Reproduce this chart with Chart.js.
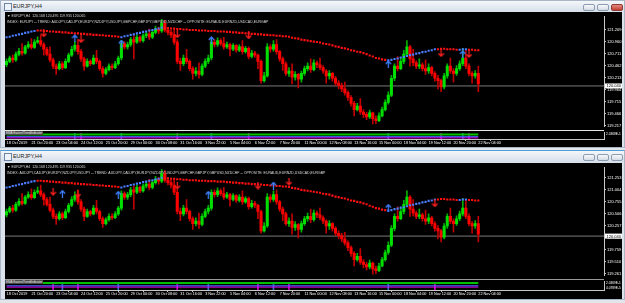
<!DOCTYPE html>
<html>
<head>
<meta charset="utf-8">
<script src="https://cdn.jsdelivr.net/npm/chart.js@4.4.0/dist/chart.umd.min.js"></script>
<style>
html, body { margin: 0; padding: 0; }
body { width: 625px; height: 303px; background: #e2e6eb; position: relative; overflow: hidden; font-family: "Liberation Sans", Arial, sans-serif; }
.win { position: absolute; left: 0; width: 625px; background: #dbe2eb; box-sizing: border-box; border: 1px solid #a9b6c6; }
.titlebar { position: absolute; left: 1px; width: 623px; height: 11px; background: linear-gradient(#f4f7fa, #d6dfea); }
.ttext { position: absolute; left: 12px; top: 2px; font-size: 5.4px; color: #222; white-space: nowrap; }
.icon { position: absolute; left: 3px; top: 2px; width: 6px; height: 6px; border: 1px solid #6d86a8; background: #eef3f9; }
.btn { position: absolute; top: 3px; width: 12px; height: 7px; box-sizing: border-box; border: 1px solid #8c9cb1; border-radius: 2px; background: linear-gradient(#f7f9fb, #d3dbe5); }
.btn.close { background: linear-gradient(#e48a80, #c23f33); border-color: #8e3a32; }
.pane { position: absolute; left: 5px; width: 617px; background: #000; }
canvas { position: absolute; }
.hdr { position: absolute; left: 7px; font-size: 3.5px; line-height: 4px; color: #dcdcdc; white-space: nowrap; }
.line { position: absolute; background: #d0d0d0; }
.sublabel { position: absolute; left: 5px; height: 4px; padding: 0 1px; background: #4a4a4a; color: #f0f0f0; font-size: 3px; line-height: 4px; white-space: nowrap; }
</style>
</head>
<body>

<div class="win" style="top:0;height:148px"></div>
<div class="titlebar" style="top:1px">
  <div class="icon"></div><span class="ttext">EURJPY,H4</span>
  <div class="btn" style="left:582px"></div><div class="btn" style="left:596px"></div><div class="btn close" style="left:610px"></div>
</div>
<div class="pane" style="top:12px;height:135px"></div>
<canvas id="mainTop" width="617" height="117" style="left:5px;top:13px"></canvas>
<canvas id="subTop" width="617" height="16" style="left:5px;top:130px"></canvas>
<div class="line" style="left:5px;top:130px;width:599px;height:1px;background:#e6e6e6"></div>
<div class="hdr" style="top:13.5px">&#9660; EURJPY,H4&nbsp; 120.168 120.495 119.935 120.065</div>
<div class="hdr" style="top:19.5px">INDEX: EURJPY -- TREND: AUDJPY,CADJPY,EURJPY,NZDJPY,USDJPY,GBPCHF,GBPJPY,GBPUSD,NZDCHF -- OPPOSITE: EURAUD,EURNZD,USDCAD,EURGBP</div>
<div class="sublabel" style="top:131px">EMA EasiestTrendIndicator</div>

<div class="win" style="top:150px;height:150px;border-top-color:#4f9fd8"></div>
<div class="titlebar" style="top:151px">
  <div class="icon"></div><span class="ttext">EURJPY,H4</span>
  <div class="btn" style="left:582px"></div><div class="btn" style="left:596px"></div><div class="btn" style="left:610px"></div>
</div>
<div class="pane" style="top:163px;height:136px"></div>
<canvas id="mainBottom" width="617" height="115" style="left:5px;top:164px"></canvas>
<canvas id="subBottom" width="617" height="19" style="left:5px;top:279px"></canvas>
<div class="line" style="left:5px;top:279px;width:599px;height:1px;background:#9a9a9a"></div>
<div class="hdr" style="top:164.5px">&#9660; EURJPY,H4&nbsp; 120.168 120.495 119.935 120.065</div>
<div class="hdr" style="top:171px">INDEX: AUDJPY,CADJPY,EURJPY,NZDJPY,USDJPY -- TREND: AUDJPY,CADJPY,EURJPY,NZDJPY,USDJPY,GBPCHF,GBPJPY,GBPUSD,NZDCHF -- OPPOSITE: EURAUD,EURNZD,USDCAD,EURGBP</div>
<div class="sublabel" style="top:280px">EMA EasiestTrendIndicator</div>

<script>
// EURJPY H4, 18 Oct 2019 .. 22 Nov 2019
const slotCount = 193;   // visible bar slots incl. the empty right margin

const opens = [120.48,120.55,120.62,120.58,120.70,120.76,120.72,120.85,120.90,120.84,
120.95,120.98,120.90,120.80,120.70,120.58,120.45,120.40,120.50,120.42,
120.55,120.68,120.80,120.88,120.75,120.60,120.45,120.55,120.50,120.62,
120.55,120.40,120.30,120.38,120.45,120.42,120.50,120.62,120.92,120.85,
120.90,121.00,120.95,121.05,120.98,121.08,121.12,121.05,121.15,121.22,
121.18,121.34,121.20,121.15,121.10,120.95,120.55,120.50,120.62,120.55,
120.40,120.30,120.35,120.28,120.45,120.55,120.62,120.95,120.90,120.98,
120.92,120.85,120.90,120.80,120.88,120.78,120.85,120.75,120.82,120.65,
120.72,120.68,120.55,120.15,120.25,120.85,120.80,120.90,120.75,120.60,
120.50,120.30,120.35,120.22,120.28,120.18,120.30,120.40,120.45,120.38,
120.52,120.48,120.42,120.35,120.25,120.30,120.20,120.10,120.05,119.98,
119.90,119.80,119.68,119.55,119.62,119.50,119.45,119.40,119.48,119.36,
119.32,119.42,119.55,119.70,119.85,120.20,120.45,120.40,120.55,120.70,
120.85,120.60,120.52,120.45,120.48,120.40,120.35,120.42,120.30,120.20,
120.15,120.02,120.25,120.45,120.35,120.30,120.40,120.50,120.62,120.45,
120.30,120.25,120.30];

const highs = [120.60,120.66,120.68,120.74,120.82,120.92,120.88,120.96,121.02,121.00,
121.06,121.10,120.94,120.84,120.85,120.62,120.50,120.55,120.54,120.60,
120.72,120.86,120.96,121.00,120.80,120.64,120.60,120.58,120.68,120.78,
120.58,120.44,120.42,120.50,120.50,120.55,120.66,120.98,120.96,120.95,
121.05,121.08,121.10,121.08,121.12,121.18,121.22,121.20,121.28,121.26,
121.42,121.40,121.24,121.20,121.22,121.00,120.62,120.68,120.80,120.58,
120.44,120.42,120.52,120.50,120.60,120.68,121.00,121.00,121.04,121.02,
121.05,120.95,120.93,120.92,120.90,120.90,120.98,120.86,120.85,120.78,
120.76,120.70,120.58,120.32,120.92,120.90,120.98,121.00,120.78,120.64,
120.54,120.42,120.50,120.34,120.30,120.35,120.45,120.52,120.60,120.58,
120.56,120.62,120.46,120.38,120.36,120.32,120.24,120.15,120.10,120.12,
119.94,119.84,119.72,119.68,119.78,119.55,119.50,119.54,119.50,119.42,
119.48,119.60,119.75,119.92,120.26,120.50,120.65,120.62,120.78,120.98,
120.88,120.80,120.56,120.60,120.52,120.58,120.50,120.45,120.34,120.26,
120.18,120.30,120.50,120.62,120.40,120.46,120.56,120.82,120.78,120.50,
120.34,120.36,120.45];

const lows = [120.44,120.52,120.53,120.55,120.66,120.68,120.70,120.82,120.80,120.82,
120.92,120.86,120.68,120.66,120.54,120.40,120.28,120.37,120.38,120.40,
120.52,120.65,120.76,120.70,120.55,120.36,120.43,120.46,120.48,120.50,
120.36,120.22,120.27,120.35,120.38,120.40,120.47,120.58,120.80,120.80,
120.86,120.60,120.92,120.94,120.95,121.04,121.00,121.02,121.12,121.12,
121.15,121.16,121.10,121.04,120.90,120.50,120.36,120.46,120.50,120.35,
120.18,120.25,120.20,120.25,120.42,120.50,120.58,120.85,120.86,120.88,
120.80,120.82,120.66,120.77,120.74,120.75,120.70,120.72,120.60,120.62,
120.63,120.40,120.10,120.12,120.22,120.74,120.76,120.70,120.55,120.36,
120.26,120.24,120.08,120.16,120.00,120.12,120.26,120.35,120.32,120.35,
120.42,120.38,120.30,120.10,120.18,120.14,120.05,119.98,119.92,119.85,
119.74,119.62,119.42,119.52,119.45,119.38,119.34,119.36,119.25,119.26,
119.30,119.40,119.52,119.66,119.82,120.15,120.35,120.38,120.50,120.66,
120.45,120.46,120.40,120.40,120.35,120.28,120.30,120.25,120.14,119.98,
119.92,119.98,120.20,120.30,120.12,120.26,120.36,120.46,120.40,120.25,
120.10,120.20,119.92];

const closes = [120.55,120.62,120.58,120.70,120.76,120.72,120.85,120.90,120.84,120.95,
120.98,120.90,120.80,120.70,120.58,120.45,120.40,120.50,120.42,120.55,
120.68,120.80,120.88,120.75,120.60,120.45,120.55,120.50,120.62,120.55,
120.40,120.30,120.38,120.45,120.42,120.50,120.62,120.92,120.85,120.90,
121.00,120.95,121.05,120.98,121.08,121.12,121.05,121.15,121.22,121.18,
121.34,121.20,121.15,121.10,120.95,120.55,120.50,120.62,120.55,120.40,
120.30,120.35,120.28,120.45,120.55,120.62,120.95,120.90,120.98,120.92,
120.85,120.90,120.80,120.88,120.78,120.85,120.75,120.82,120.65,120.72,
120.68,120.55,120.15,120.25,120.85,120.80,120.90,120.75,120.60,120.50,
120.30,120.35,120.22,120.28,120.18,120.30,120.40,120.45,120.38,120.52,
120.48,120.42,120.35,120.25,120.30,120.20,120.10,120.05,119.98,119.90,
119.80,119.68,119.55,119.62,119.50,119.45,119.40,119.48,119.36,119.32,
119.42,119.55,119.70,119.85,120.20,120.45,120.40,120.55,120.70,120.85,
120.60,120.52,120.45,120.48,120.40,120.35,120.42,120.30,120.20,120.15,
120.02,120.25,120.45,120.35,120.30,120.40,120.50,120.62,120.45,120.30,
120.25,120.30,120.08];

// dotted trend line and the bars where its colour flips
const trendLine = [121.05,121.06,121.08,121.09,121.11,121.12,121.14,121.15,121.17,121.18,
121.19,121.19,121.18,121.18,121.17,121.17,121.16,121.16,121.15,121.15,
121.14,121.14,121.13,121.13,121.12,121.12,121.11,121.11,121.10,121.10,
121.09,121.09,121.08,121.08,121.07,121.07,121.06,121.05,121.07,121.08,
121.10,121.11,121.13,121.14,121.16,121.17,121.19,121.20,121.22,121.23,
121.25,121.24,121.24,121.23,121.23,121.22,121.22,121.21,121.21,121.20,
121.20,121.20,121.19,121.19,121.19,121.18,121.18,121.18,121.17,121.17,
121.17,121.16,121.16,121.15,121.15,121.14,121.14,121.13,121.13,121.12,
121.12,121.11,121.11,121.10,121.10,121.09,121.09,121.08,121.08,121.07,
121.07,121.06,121.04,121.03,121.02,121.00,120.99,120.98,120.97,120.96,
120.95,120.94,120.92,120.91,120.90,120.88,120.86,120.85,120.83,120.82,
120.80,120.78,120.77,120.75,120.74,120.72,120.70,120.67,120.65,120.62,
120.61,120.59,120.58,120.57,120.58,120.60,120.61,120.63,120.64,120.66,
120.68,120.69,120.71,120.72,120.74,120.75,120.77,120.78,120.80,120.80,
120.81,120.81,120.80,120.80,120.80,120.79,120.79,120.80,120.80,120.79,
120.79,120.78,120.78];
const trendTurns = [[0, 'up'], [10, 'down'], [37, 'up'], [51, 'down'], [123, 'up'], [139, 'down'], [146, 'up'], [149, 'down']];

const bidPrice = 120.04;
const dateLabels = ['18 Oct 2019', '21 Oct 20:00', '23 Oct 04:00', '24 Oct 12:00', '25 Oct 20:00',
  '29 Oct 00:00', '30 Oct 08:00', '31 Oct 16:00', '3 Nov 22:00', '5 Nov 04:00', '6 Nov 12:00',
  '7 Nov 20:00', '11 Nov 00:00', '12 Nov 08:00', '13 Nov 16:00', '15 Nov 00:00', '18 Nov 04:00',
  '19 Nov 12:00', '20 Nov 20:00', '22 Nov 04:00'];
const dateStep = 8;

const topPriceTicks = [121.209, 120.960, 120.711, 120.462, 120.213, 119.964, 119.715, 119.466, 119.217];
const bottomPriceTicks = [121.253, 121.004, 120.755, 120.506, 120.257, 120.008, 119.759, 119.510, 119.261];

// arrows: [bar, price]
const topBuyArrows = [[22, 121.03], [37, 120.92], [66, 120.99], [123, 120.49], [147, 120.70]];
const topSellArrows = [[12, 121.13], [24, 121.01], [55, 121.11], [78, 121.09], [140, 120.72], [149, 120.70]];
const bottomBuyArrows = [[18, 120.92], [36, 120.90], [65, 120.90], [86, 121.09], [123, 120.63]];
const bottomSellArrows = [[15, 120.96], [23, 120.92], [55, 121.09], [81, 121.09], [91, 121.17], [138, 120.72]];

// indicator sub-window
const topBuySignals = [22, 37, 66, 123, 147];
const topSellSignals = [24, 55, 78, 140, 149];
const bottomBuySignals = [18, 36, 65, 86, 123];
const bottomSellSignals = [15, 23, 55, 81, 91, 138];
const topSubLevels = [6.5, 3.5, 1.7];
const bottomSubLevels = [7.8, 4.7, 3.3];
const subLevelColors = ['#00c000', '#3c6cff', '#ff00ff'];
const topSubTicks = [6.5, 3.5];
const topSubTickLabels = ['2.0368E-1', '2.0000E-1'];
const bottomSubTicks = [7.8, 2.5];
const bottomSubTickLabels = ['2.0369E-1', '4.0789E-5'];

const barIdx = opens.map((_, i) => i);

function trendDirs() {
  const d = [];
  let k = 0;
  for (let i = 0; i < barIdx.length; i++) {
    while (k + 1 < trendTurns.length && trendTurns[k + 1][0] <= i) k++;
    d.push(trendTurns[k][1]);
  }
  return d;
}

function arrowIcon(dir, color) {
  const c = document.createElement('canvas');
  c.width = 7; c.height = 8;
  const g = c.getContext('2d');
  g.strokeStyle = color; g.lineWidth = 1.3;
  g.beginPath();
  if (dir === 'up') {
    g.moveTo(3.5, 8); g.lineTo(3.5, 1); g.moveTo(0.8, 3.8); g.lineTo(3.5, 1); g.lineTo(6.2, 3.8);
  } else {
    g.moveTo(3.5, 0); g.lineTo(3.5, 7); g.moveTo(0.8, 4.2); g.lineTo(3.5, 7); g.lineTo(6.2, 4.2);
  }
  g.stroke();
  return c;
}

const bidBox = {
  id: 'bidBox',
  afterDraw(chart) {
    const y = chart.scales.y;
    const py = y.getPixelForValue(bidPrice);
    const ctx = chart.ctx;
    ctx.save();
    ctx.fillStyle = '#ffffff';
    ctx.fillRect(y.left + 1, py - 2.5, y.width - 1, 5);
    ctx.fillStyle = '#000000';
    ctx.font = '4px "Liberation Sans"';
    ctx.textBaseline = 'middle';
    ctx.fillText(bidPrice.toFixed(3), y.left + 2.5, py + 0.3);
    ctx.restore();
  }
};

function priceChart(id, yMin, yMax, priceTicks, buys, sells) {
  const dirs = trendDirs();
  const up = arrowIcon('up', '#3f7fff');
  const down = arrowIcon('down', '#ff2020');
  return new Chart(document.getElementById(id), {
    type: 'bar',
    data: {
      datasets: [
        {
          label: 'wicks',
          data: barIdx.map(i => ({x: i, y: [lows[i], highs[i]]})),
          backgroundColor: barIdx.map(i => closes[i] >= opens[i] ? '#00b000' : '#c00000'),
          barThickness: 1, grouped: false, order: 3
        },
        {
          label: 'bodies',
          data: barIdx.map(i => ({x: i, y: [opens[i], closes[i]]})),
          backgroundColor: barIdx.map(i => closes[i] >= opens[i] ? '#00e000' : '#ff0000'),
          barThickness: 2.4, grouped: false, minBarLength: 1, order: 2
        },
        {
          type: 'line', label: 'bid',
          data: [{x: -0.5, y: bidPrice}, {x: slotCount - 0.5, y: bidPrice}],
          borderColor: '#7a7a7a', borderWidth: 1, pointRadius: 0, order: 4
        },
        {
          type: 'line', label: 'trend down',
          data: barIdx.filter(i => dirs[i] === 'down').map(i => ({x: i, y: trendLine[i]})),
          showLine: false, pointStyle: 'rect', pointRadius: 1.5, pointBorderWidth: 0,
          pointBackgroundColor: '#ff1010', order: 1
        },
        {
          type: 'line', label: 'trend up',
          data: barIdx.filter(i => dirs[i] === 'up').map(i => ({x: i, y: trendLine[i]})),
          showLine: false, pointStyle: 'rect', pointRadius: 1.5, pointBorderWidth: 0,
          pointBackgroundColor: '#4a7dff', order: 1
        },
        {
          type: 'line', label: 'buy',
          data: buys.map(a => ({x: a[0], y: a[1]})),
          showLine: false, pointStyle: up, order: 0
        },
        {
          type: 'line', label: 'sell',
          data: sells.map(a => ({x: a[0], y: a[1]})),
          showLine: false, pointStyle: down, order: 0
        }
      ]
    },
    options: {
      responsive: false, animation: false, events: [],
      layout: {padding: 0, autoPadding: false},
      plugins: {legend: {display: false}, tooltip: {enabled: false}},
      scales: {
        x: {type: 'linear', min: -0.5, max: slotCount - 0.5, display: false, offset: false},
        y: {
          type: 'linear', position: 'right', min: yMin, max: yMax,
          afterBuildTicks: s => { s.ticks = priceTicks.map(v => ({value: v})); },
          afterFit: s => { s.width = 18; },
          ticks: {color: '#ffffff', font: {size: 4, family: 'Liberation Sans'}, padding: 1, callback: v => v.toFixed(3)},
          grid: {drawOnChartArea: false, tickLength: 2, color: '#c8c8c8'},
          border: {color: '#c8c8c8'}
        }
      }
    },
    plugins: [bidBox]
  });
}

function signalChart(id, levels, buySig, sellSig, subTicks, subTickLabels, axisHeight) {
  const datasets = [
    {label: 'buy signal', data: buySig.map(i => ({x: i, y: [0, 9]})), backgroundColor: '#2f6fd0', barThickness: 1, grouped: false, order: 2},
    {label: 'sell signal', data: sellSig.map(i => ({x: i, y: [0, 9]})), backgroundColor: '#d000d0', barThickness: 1, grouped: false, order: 2}
  ];
  levels.forEach((lv, k) => {
    datasets.push({
      type: 'line', label: 'level ' + k,
      data: [{x: 0, y: lv}, {x: barIdx.length - 1, y: lv}],
      borderColor: subLevelColors[k], borderWidth: k === 0 ? 2 : 1, pointRadius: 0, order: 1
    });
  });
  return new Chart(document.getElementById(id), {
    type: 'bar',
    data: {datasets: datasets},
    options: {
      responsive: false, animation: false, events: [],
      layout: {padding: 0, autoPadding: false},
      plugins: {legend: {display: false}, tooltip: {enabled: false}},
      scales: {
        x: {
          type: 'linear', position: 'bottom', min: -0.5, max: slotCount - 0.5, offset: false,
          afterBuildTicks: s => { s.ticks = dateLabels.map((_, k) => ({value: k * dateStep})); },
          afterFit: s => { s.height = axisHeight; },
          ticks: {color: '#ffffff', font: {size: 3.8, family: 'Liberation Sans'}, padding: 0, align: 'start',
            autoSkip: false, maxRotation: 0, callback: v => dateLabels[Math.round(v / dateStep)]},
          grid: {drawOnChartArea: false, tickLength: 2, color: '#c8c8c8'},
          border: {color: '#c8c8c8'}
        },
        y: {
          type: 'linear', position: 'right', min: 0, max: 9,
          afterBuildTicks: s => { s.ticks = subTicks.map(v => ({value: v})); },
          afterFit: s => { s.width = 18; },
          ticks: {color: '#ffffff', font: {size: 3.2, family: 'Liberation Sans'}, padding: 1,
            callback: (v, i) => subTickLabels[i]},
          grid: {drawOnChartArea: false, tickLength: 1, color: '#c8c8c8'},
          border: {color: '#c8c8c8'}
        }
      }
    }
  });
}

priceChart('mainTop', 119.197, 121.482, topPriceTicks, topBuyArrows, topSellArrows);
signalChart('subTop', topSubLevels, topBuySignals, topSellSignals, topSubTicks, topSubTickLabels, 7);
priceChart('mainBottom', 119.220, 121.466, bottomPriceTicks, bottomBuyArrows, bottomSellArrows);
signalChart('subBottom', bottomSubLevels, bottomBuySignals, bottomSellSignals, bottomSubTicks, bottomSubTickLabels, 8);
</script>
</body>
</html>
